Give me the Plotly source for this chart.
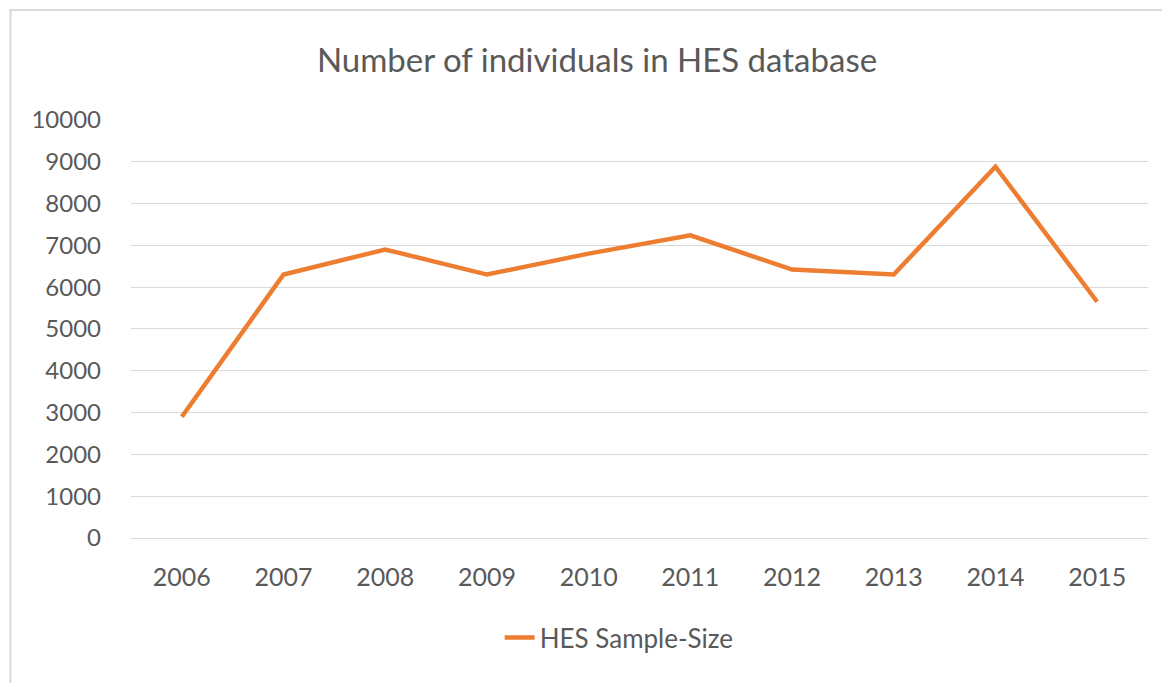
import plotly.graph_objects as go

years = ['2006', '2007', '2008', '2009', '2010', '2011', '2012', '2013', '2014', '2015']
sample_size = [2900, 6300, 6900, 6300, 6800, 7240, 6420, 6300, 8880, 5650]
y_ticks = [0, 1000, 2000, 3000, 4000, 5000, 6000, 7000, 8000, 9000, 10000]

txt = '#595959'
fnt = 'Lato, Open Sans, sans-serif'

fig = go.Figure()
fig.add_trace(go.Scatter(x=years, y=sample_size, mode='lines', name='HES Sample-Size',
                         line=dict(color='#ED7D31', width=4.5)))

# page body has an 8px margin, so the figure is a bit smaller and shifted
fig.update_layout(
    width=1162, height=675,
    paper_bgcolor='white', plot_bgcolor='white',
    margin=dict(l=123, r=22, t=111, b=145),
    title=dict(text='Number of individuals in HES database', x=589 / 1162, xanchor='center',
               y=1 - 52 / 675, yanchor='middle',
               font=dict(family=fnt, size=33, color=txt)),
    font=dict(family=fnt, size=24, color=txt),
    showlegend=True,
    legend=dict(orientation='h', x=0.48, xanchor='center', y=-0.238, yanchor='middle',
                font=dict(family=fnt, size=26, color=txt)),
)
fig.update_xaxes(type='category', range=[-0.5, 9.5], showgrid=False, showline=False, ticks='',
                 automargin=False, ticklabelstandoff=22, tickfont=dict(size=25, color=txt))
fig.update_yaxes(range=[0, 10020], tickvals=y_ticks, ticktext=[str(v) for v in y_ticks],
                 showgrid=True, gridcolor='#D9D9D9', gridwidth=1.2,
                 zeroline=True, zerolinecolor='#D9D9D9', zerolinewidth=1.2,
                 showline=False, ticks='', automargin=False, ticklabelstandoff=29,
                 tickfont=dict(size=24, color=txt))

# chart frame (left and top edges only)
fig.add_shape(type='line', xref='paper', yref='paper', x0=-0.1185, x1=-0.1185, y0=1.26, y1=-0.35,
              line=dict(color='#D9D9D9', width=2))
fig.add_shape(type='line', xref='paper', yref='paper', x0=-0.1195, x1=1.03, y0=1.26, y1=1.26,
              line=dict(color='#D9D9D9', width=2))

fig.write_html('out.html')
